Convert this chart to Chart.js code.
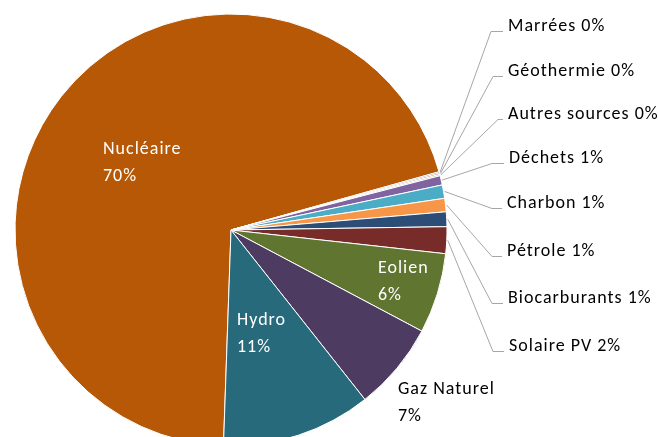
<!DOCTYPE html>
<html>
<head>
<meta charset="utf-8">
<script src="https://cdn.jsdelivr.net/npm/chart.js@4/dist/chart.umd.min.js"></script>
<style>
  html, body { margin: 0; padding: 0; overflow: hidden; background: #fff; }
  canvas { display: block; }
</style>
</head>
<body>
<canvas id="myChart" width="658" height="470"></canvas>
<script>
const categories = ['Nucléaire', 'Marrées', 'Géothermie', 'Autres sources', 'Déchets', 'Charbon',
    'Pétrole', 'Biocarburants', 'Solaire PV', 'Eolien', 'Gaz Naturel', 'Hydro'];
const shares = [70.1, 0.1, 0.1, 0.1, 0.7, 1.0, 1.0, 1.1, 2.0, 6.0, 6.6, 11.2];
const colors = ['#B65806', '#4F81BD', '#C0504D', '#9BBB59', '#8064A2', '#4BACC6',
    '#F79646', '#2C4D75', '#772C2A', '#5F7530', '#4D3B62', '#276A7C'];

// label layout: [textX, baselineY, elbowX (null = inside / no leader), twoLines, white]
const labelPos = [
    [103, 154, null, true, true],
    [508, 31, 491, false, false],
    [508, 76, 493, false, false],
    [508, 119, 498, false, false],
    [509, 163, 492, false, false],
    [507, 208, 492, false, false],
    [507, 256, 492, false, false],
    [508, 303, 492, false, false],
    [509, 351, 493, false, false],
    [378, 273, null, true, true],
    [398, 394, null, true, false],
    [237, 325, null, true, true]
];

const FONT = '18px Carlito, Lato, "Open Sans", sans-serif';

const labelPlugin = {
    id: 'pieLabels',
    afterDatasetsDraw(chart) {
        const ctx = chart.ctx;
        const arcs = chart.getDatasetMeta(0).data;
        const total = shares.reduce((a, b) => a + b, 0);
        ctx.save();
        ctx.font = FONT;
        ctx.letterSpacing = '1px';
        ctx.textBaseline = 'alphabetic';
        ctx.textAlign = 'left';
        arcs.forEach((arc, i) => {
            const [tx, ty, elbow, twoLines, white] = labelPos[i];
            const pct = Math.round(shares[i] / total * 100) + '%';
            if (elbow !== null) {
                const mid = (arc.startAngle + arc.endAngle) / 2;
                const r = arc.outerRadius + 1;
                const px = arc.x + Math.cos(mid) * r;
                const py = arc.y + Math.sin(mid) * r;
                ctx.strokeStyle = '#A6A6A6';
                ctx.lineWidth = 1;
                ctx.beginPath();
                ctx.moveTo(px, py);
                ctx.lineTo(elbow, ty + 0.5);
                ctx.lineTo(tx - 5, ty + 0.5);
                ctx.stroke();
            }
            ctx.fillStyle = white ? '#FFFFFF' : '#000000';
            if (twoLines) {
                ctx.fillText(categories[i], tx, ty);
                ctx.fillText(pct, tx, ty + 27);
            } else {
                ctx.fillText(categories[i] + ' ' + pct, tx, ty);
            }
        });
        ctx.restore();
    }
};

new Chart(document.getElementById('myChart'), {
    type: 'pie',
    data: {
        labels: categories,
        datasets: [{
            data: shares,
            backgroundColor: colors,
            borderColor: '#FFFFFF',
            borderWidth: 1,
            clip: false
        }]
    },
    options: {
        responsive: false,
        animation: false,
        rotation: 182,
        radius: 216,
        layout: { padding: { left: 12, top: 11, right: 208, bottom: 21 } },
        plugins: {
            legend: { display: false },
            tooltip: { enabled: false }
        },
        events: []
    },
    plugins: [labelPlugin]
});
</script>
</body>
</html>
